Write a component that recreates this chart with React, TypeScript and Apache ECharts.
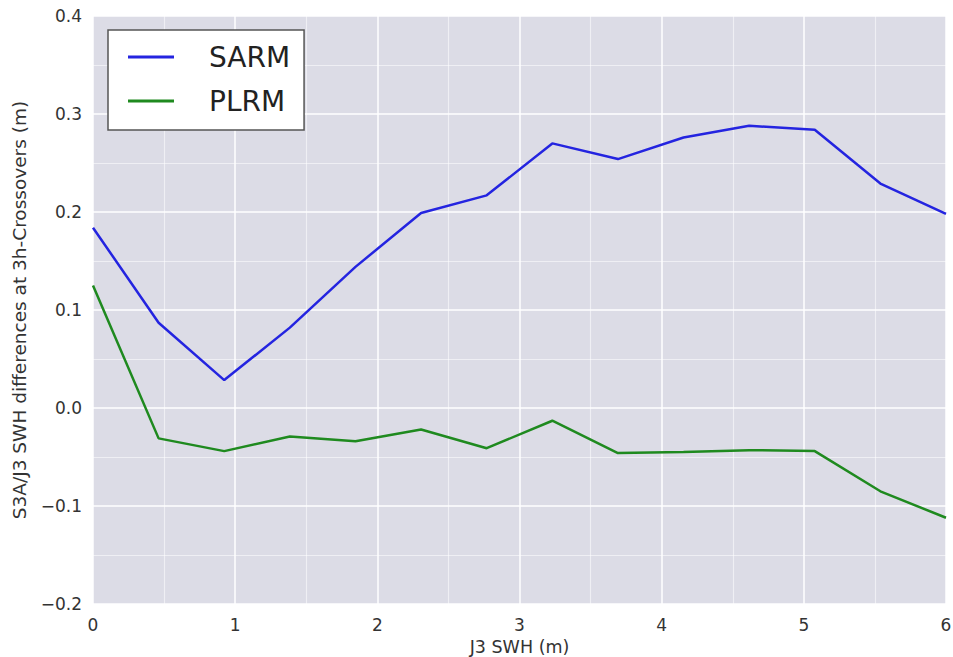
import React, { useEffect, useRef } from "react";
import * as echarts from "echarts";

const xValues = [0, 0.4615, 0.9231, 1.3846, 1.8462, 2.3077, 2.7692, 3.2308, 3.6923, 4.1538, 4.6154, 5.0769, 5.5385, 6.0];
const sarm = [0.184, 0.087, 0.0285, 0.082, 0.144, 0.199, 0.217, 0.27, 0.254, 0.276, 0.288, 0.284, 0.229, 0.198];
const plrm = [0.125, -0.031, -0.044, -0.029, -0.034, -0.022, -0.041, -0.013, -0.046, -0.045, -0.043, -0.044, -0.085, -0.112];
const seriesNames = ["SARM", "PLRM"];
const xAxisTitle = "J3 SWH (m)";
const yAxisTitle = "S3A/J3 SWH differences at 3h-Crossovers (m)";

const FONT = "DejaVu Sans";

export default function App() {
  const ref = useRef<HTMLDivElement>(null);
  useEffect(() => {
    if (!ref.current) return;
    const chart = echarts.init(ref.current, undefined, { renderer: "svg" });
    const fmt = (v: number) => {
      const s = Math.abs(v) < 1e-9 ? "0.0" : v.toFixed(1);
      return s.replace("-", "\u2212");
    };
    chart.setOption({
      animation: false,
      grid: {
        left: 93,
        right: 7,
        top: 16,
        bottom: 53,
        show: true,
        backgroundColor: "#dcdce6",
        borderWidth: 0,
        outerBoundsMode: "none",
        containLabel: false,
      },
      legend: {
        orient: "vertical",
        left: 108,
        top: 30,
        width: 199,
        padding: [13, 14, 15, 20],
        itemGap: 16,
        itemWidth: 46,
        itemHeight: 3,
        icon: "rect",
        backgroundColor: "#ffffff",
        borderColor: "#555555",
        borderWidth: 1.5,
        borderRadius: 0,
        textStyle: {
          fontFamily: FONT,
          fontSize: 28,
          color: "#222222",
          padding: [0, 0, 0, 30],
        },
        data: seriesNames,
      },
      xAxis: {
        type: "value",
        min: 0,
        max: 6,
        interval: 1,
        name: xAxisTitle,
        nameLocation: "middle",
        nameGap: 31,
        nameTextStyle: { fontFamily: FONT, fontSize: 17.5, color: "#333333" },
        axisLine: { show: false },
        axisTick: { show: false },
        axisLabel: {
          fontFamily: FONT,
          fontSize: 17,
          color: "#333333",
          margin: 12,
        },
        splitLine: { show: true, lineStyle: { color: "#ffffff", width: 1.5 } },
        minorTick: { show: false, splitNumber: 2 },
        minorSplitLine: { show: true, lineStyle: { color: "rgba(255,255,255,0.55)", width: 1.2 } },
      },
      yAxis: {
        type: "value",
        min: -0.2,
        max: 0.4,
        interval: 0.1,
        name: yAxisTitle,
        nameLocation: "middle",
        nameGap: 64,
        nameTextStyle: { fontFamily: FONT, fontSize: 18.5, color: "#333333" },
        axisLine: { show: false },
        axisTick: { show: false },
        axisLabel: {
          fontFamily: FONT,
          fontSize: 17,
          color: "#333333",
          margin: 11,
          formatter: fmt,
        },
        splitLine: { show: true, lineStyle: { color: "#ffffff", width: 1.5 } },
        minorTick: { show: false, splitNumber: 2 },
        minorSplitLine: { show: true, lineStyle: { color: "rgba(255,255,255,0.55)", width: 1.2 } },
      },
      series: [
        {
          name: seriesNames[0],
          type: "line",
          symbol: "none",
          data: xValues.map((x, i) => [x, sarm[i]]),
          lineStyle: { color: "#2424e0", width: 2.5 },
          itemStyle: { color: "#2424e0" },
        },
        {
          name: seriesNames[1],
          type: "line",
          symbol: "none",
          data: xValues.map((x, i) => [x, plrm[i]]),
          lineStyle: { color: "#1f8a1f", width: 2.5 },
          itemStyle: { color: "#1f8a1f" },
        },
      ],
    });
    return () => chart.dispose();
  }, []);
  return <div ref={ref} style={{ width: 953, height: 657, position: "absolute", left: 0, top: 0 }} />;
}
